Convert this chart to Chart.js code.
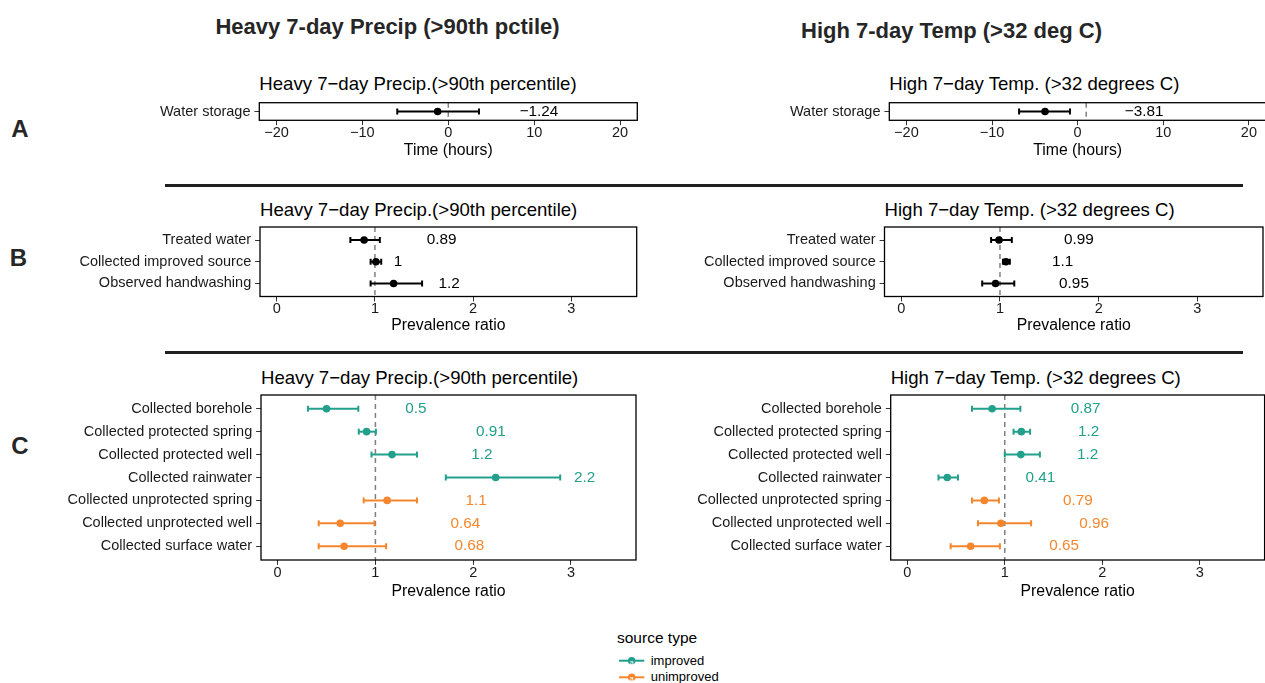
<!DOCTYPE html>
<html><head><meta charset="utf-8">
<script src="https://cdn.jsdelivr.net/npm/chart.js@4.4.1/dist/chart.umd.min.js"></script>
<style>
html,body{margin:0;padding:0;background:#fff;width:1265px;height:683px;overflow:hidden;position:relative;font-family:'Liberation Sans',Arial,Helvetica,sans-serif;}
.abs{position:absolute;white-space:nowrap;}
canvas{position:absolute;}
</style></head><body>
<div class="abs" style="left:187.5px;width:400px;top:14px;line-height:26px;text-align:center;font-weight:bold;font-size:22px;color:#262626;">Heavy 7-day Precip (&gt;90th pctile)</div>
<div class="abs" style="left:751.5px;width:400px;top:18px;line-height:26px;text-align:center;font-weight:bold;font-size:22px;color:#262626;">High 7-day Temp (&gt;32 deg C)</div>
<div class="abs" style="left:0px;width:40px;top:115px;line-height:28px;text-align:center;font-weight:bold;font-size:24px;color:#262626;">A</div>
<div class="abs" style="left:-1.5px;width:40px;top:244px;line-height:28px;text-align:center;font-weight:bold;font-size:24px;color:#262626;">B</div>
<div class="abs" style="left:0px;width:40px;top:432px;line-height:28px;text-align:center;font-weight:bold;font-size:24px;color:#262626;">C</div>
<div class="abs" style="left:165px;width:1078px;top:184px;height:2.6px;background:#1f1f1f;"></div>
<div class="abs" style="left:165px;width:1078px;top:351px;height:2.6px;background:#1f1f1f;"></div>
<div id="legend"></div>
<script>
// ---------- DATA ----------
const tickHours = [-20, -10, 0, 10, 20];
const tickHoursLabels = ["\u221220", "\u221210", "0", "10", "20"];
const tickRatio = [0, 1, 2, 3];
const tickRatioLabels = ["0", "1", "2", "3"];
const hoursRange = [-22, 22];
const ratioRange = [-0.17, 3.665];

const storageCategories = ["Water storage"];
const storagePrecipEst = [-1.24];
const storagePrecipLow = [-5.94];
const storagePrecipHigh = [3.57];
const storagePrecipText = ["\u22121.24"];
const storagePrecipTextAt = [10.56];
const storageTempEst = [-3.81];
const storageTempLow = [-6.84];
const storageTempHigh = [-0.9];
const storageTempText = ["\u22123.81"];
const storageTempTextAt = [7.76];

const behaviourCategories = ["Treated water", "Collected improved source", "Observed handwashing"];
const behPrecipEst = [0.89, 1.01, 1.19];
const behPrecipLow = [0.75, 0.956, 0.956];
const behPrecipHigh = [1.05, 1.064, 1.48];
const behPrecipText = ["0.89", "1", "1.2"];
const behPrecipTextAt = [1.68, 1.234, 1.756];
const behTempEst = [0.99, 1.06, 0.955];
const behTempLow = [0.91, 1.03, 0.82];
const behTempHigh = [1.12, 1.10, 1.145];
const behTempText = ["0.99", "1.1", "0.95"];
const behTempTextAt = [1.80, 1.635, 1.75];

const sourceCategories = ["Collected borehole", "Collected protected spring", "Collected protected well", "Collected rainwater", "Collected unprotected spring", "Collected unprotected well", "Collected surface water"];
const sourceType = ["improved", "improved", "improved", "improved", "unimproved", "unimproved", "unimproved"];
const srcPrecipEst = [0.50, 0.91, 1.17, 2.23, 1.12, 0.64, 0.68];
const srcPrecipLow = [0.31, 0.83, 0.96, 1.72, 0.88, 0.42, 0.42];
const srcPrecipHigh = [0.825, 1.005, 1.425, 2.89, 1.425, 0.99, 1.11];
const srcPrecipText = ["0.5", "0.91", "1.2", "2.2", "1.1", "0.64", "0.68"];
const srcPrecipTextAt = [1.415, 2.18, 2.09, 3.14, 2.03, 1.92, 1.96];
const srcTempEst = [0.87, 1.17, 1.165, 0.41, 0.79, 0.96, 0.65];
const srcTempLow = [0.664, 1.09, 1.0, 0.32, 0.664, 0.725, 0.445];
const srcTempHigh = [1.16, 1.26, 1.36, 0.52, 0.94, 1.27, 0.95];
const srcTempText = ["0.87", "1.2", "1.2", "0.41", "0.79", "0.96", "0.65"];
const srcTempTextAt = [1.83, 1.86, 1.85, 1.365, 1.75, 1.916, 1.61];

const precipTitle = "Heavy 7\u2212day Precip.(>90th percentile)";
const tempTitle = "High 7\u2212day Temp. (>32 degrees C)";
const groupNames = ["improved", "unimproved"];

// ---------- STYLE / LAYOUT ----------
const GROUP_COLORS = { improved: '#22A08B', unimproved: '#F4872E' };
const FONT = "'Liberation Sans', Arial, Helvetica, sans-serif";
Chart.defaults.font.family = FONT;

const panels = [
  { col: 0, box: [259.3, 102.7, 637.3, 120.3], titleY: 84, xTitleY: 151, title: precipTitle, xTitle: 'Time (hours)',
    cats: storageCategories, est: storagePrecipEst, low: storagePrecipLow, high: storagePrecipHigh, text: storagePrecipText, textAt: storagePrecipTextAt,
    range: hoursRange, ticks: tickHours, tickLabels: tickHoursLabels, ref: 0 },
  { col: 1, box: [889.3, 102.7, 1266, 120.3], titleY: 84, xTitleY: 151, title: tempTitle, xTitle: 'Time (hours)',
    cats: storageCategories, est: storageTempEst, low: storageTempLow, high: storageTempHigh, text: storageTempText, textAt: storageTempTextAt,
    range: hoursRange, ticks: tickHours, tickLabels: tickHoursLabels, ref: 1 },
  { col: 0, box: [260, 227, 636.7, 296.5], titleY: 209.5, xTitleY: 326, title: precipTitle, xTitle: 'Prevalence ratio',
    cats: behaviourCategories, est: behPrecipEst, low: behPrecipLow, high: behPrecipHigh, text: behPrecipText, textAt: behPrecipTextAt,
    range: ratioRange, ticks: tickRatio, tickLabels: tickRatioLabels, ref: 1 },
  { col: 1, box: [884.5, 227, 1263, 296.5], titleY: 209.5, xTitleY: 326, title: tempTitle, xTitle: 'Prevalence ratio',
    cats: behaviourCategories, est: behTempEst, low: behTempLow, high: behTempHigh, text: behTempText, textAt: behTempTextAt,
    range: ratioRange, ticks: tickRatio, tickLabels: tickRatioLabels, ref: 1 },
  { col: 0, box: [261, 395, 636, 560], titleY: 377.5, xTitleY: 591.5, title: precipTitle, xTitle: 'Prevalence ratio',
    cats: sourceCategories, groups: sourceType, est: srcPrecipEst, low: srcPrecipLow, high: srcPrecipHigh, text: srcPrecipText, textAt: srcPrecipTextAt,
    range: ratioRange, ticks: tickRatio, tickLabels: tickRatioLabels, ref: 1 },
  { col: 1, box: [890.7, 395, 1264.6, 560], titleY: 377.5, xTitleY: 591.5, title: tempTitle, xTitle: 'Prevalence ratio',
    cats: sourceCategories, groups: sourceType, est: srcTempEst, low: srcTempLow, high: srcTempHigh, text: srcTempText, textAt: srcTempTextAt,
    range: ratioRange, ticks: tickRatio, tickLabels: tickRatioLabels, ref: 1 }
];

function buildPanel(p) {
  const cl = p.col === 0 ? 0 : 660;
  const cw = p.col === 0 ? 660 : 620;
  const [bl, bt, br, bb] = p.box;
  const ct = Math.floor(bt - 22);
  const ch = Math.ceil(p.xTitleY + 12 - ct);

  const t = document.createElement('div');
  t.className = 'abs';
  t.style.cssText = `left:${bl}px;top:${p.titleY - 11}px;line-height:22px;font-size:18.6px;color:#000;`;
  t.textContent = p.title;
  document.body.appendChild(t);

  const cv = document.createElement('canvas');
  cv.width = cw; cv.height = ch;
  cv.style.left = cl + 'px'; cv.style.top = ct + 'px';
  cv.style.width = cw + 'px'; cv.style.height = ch + 'px';
  document.body.appendChild(cv);

  const n = p.cats.length;
  const colors = p.cats.map((_, i) => p.groups ? GROUP_COLORS[p.groups[i]] : '#000');
  const datasets = [{
    data: p.est.map((v, i) => ({ x: v, y: i })),
    pointRadius: 3.8, pointBackgroundColor: colors, pointBorderWidth: 0, showLine: false, order: 0
  }];
  p.est.forEach((_, i) => datasets.push({
    data: [{ x: p.low[i], y: i }, { x: p.high[i], y: i }],
    showLine: true, borderColor: colors[i], borderWidth: 2,
    pointStyle: 'line', pointRotation: 90, pointRadius: 3, pointBorderWidth: 2,
    pointBorderColor: colors[i], order: 1
  }));

  const deco = {
    id: 'deco',
    beforeDatasetsDraw(chart) {
      const { ctx, chartArea: a, scales: { x } } = chart;
      const px = x.getPixelForValue(p.ref);
      ctx.save();
      ctx.strokeStyle = '#808080'; ctx.lineWidth = 1.5; ctx.setLineDash([5, 4]);
      ctx.beginPath(); ctx.moveTo(px, a.top); ctx.lineTo(px, a.bottom); ctx.stroke();
      ctx.restore();
    },
    afterDatasetsDraw(chart) {
      const { ctx, chartArea: a, scales: { x, y } } = chart;
      ctx.save();
      ctx.font = '15.3px ' + FONT;
      ctx.textAlign = 'center'; ctx.textBaseline = 'middle';
      p.text.forEach((s, i) => {
        ctx.fillStyle = colors[i];
        ctx.fillText(s, x.getPixelForValue(p.textAt[i]), y.getPixelForValue(i));
      });
      ctx.strokeStyle = '#000'; ctx.lineWidth = 1.3; ctx.setLineDash([]);
      ctx.strokeRect(a.left, a.top, a.right - a.left, a.bottom - a.top);
      ctx.restore();
    }
  };

  const gridOpts = { display: true, drawOnChartArea: false, drawTicks: true, tickLength: 4.9, color: '#333', lineWidth: 1 };
  new Chart(cv, {
    type: 'scatter',
    data: { datasets },
    options: {
      responsive: false, animation: false, devicePixelRatio: 1,
      layout: { padding: { left: 0, top: bt - ct, right: (cl + cw) - br, bottom: 0 } },
      plugins: { legend: { display: false }, tooltip: { enabled: false } },
      events: [],
      scales: {
        x: {
          type: 'linear', min: p.range[0], max: p.range[1],
          afterBuildTicks: s => { s.ticks = p.ticks.map(v => ({ value: v })); },
          afterFit: s => { s.height = (ct + ch) - bb; },
          ticks: { callback: (v, i) => p.tickLabels[i], font: { size: 14.5, lineHeight: 1 }, color: '#1a1a1a', padding: 0.45, maxRotation: 0, minRotation: 0, autoSkip: false },
          grid: gridOpts,
          border: { display: false },
          title: { display: true, text: p.xTitle, font: { size: 15.8, lineHeight: 1.2 }, color: '#000', padding: { top: 0, bottom: (ct + ch) - 9.48 - p.xTitleY } }
        },
        y: {
          type: 'linear', reverse: true, min: -0.6, max: n - 0.4,
          afterBuildTicks: s => { s.ticks = p.cats.map((_, i) => ({ value: i })); },
          afterFit: s => { s.width = bl - cl; },
          ticks: { callback: (v, i) => p.cats[i], font: { size: 14.5 }, color: '#1a1a1a', padding: 3.9, autoSkip: false },
          grid: gridOpts,
          border: { display: false }
        }
      }
    },
    plugins: [deco]
  });
}
panels.forEach(buildPanel);

// ---------- LEGEND ----------
(function () {
  const lg = document.getElementById('legend');
  let html = `<div class="abs" style="left:617px;top:628px;line-height:20px;font-size:15.5px;color:#000;">source type</div>`;
  const ys = [660.7, 677.3];
  let svg = `<svg class="abs" style="left:610px;top:650px;" width="40" height="35" viewBox="610 650 40 35">`;
  groupNames.forEach((g, i) => {
    const c = GROUP_COLORS[g];
    svg += `<line x1="619" x2="644.3" y1="${ys[i]}" y2="${ys[i]}" stroke="${c}" stroke-width="2"/>`;
    svg += `<circle cx="631.7" cy="${ys[i]}" r="3.8" fill="${c}"/>`;
    svg += `<text x="631.7" y="${ys[i] + 4}" font-size="7" text-anchor="middle" fill="#fff" font-family="${FONT.replace(/'/g, '')}">a</text>`;
    html += `<div class="abs" style="left:650.7px;top:${ys[i] - 8}px;line-height:16px;font-size:13px;color:#000;">${g}</div>`;
  });
  svg += `</svg>`;
  lg.innerHTML = html + svg;
})();
</script>
</body></html>
